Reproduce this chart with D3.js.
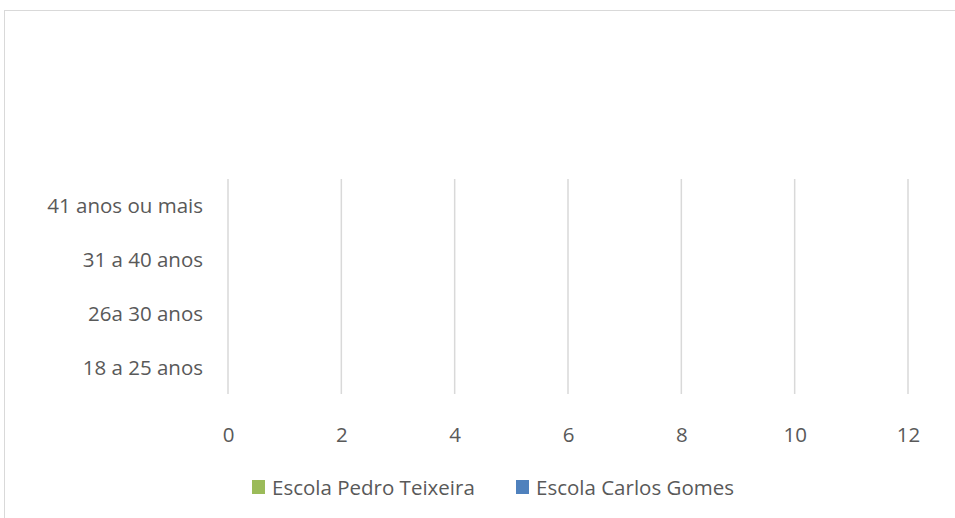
<!DOCTYPE html>
<html>
<head>
<meta charset="utf-8">
<script src="https://cdn.jsdelivr.net/npm/d3@7"></script>
<style>
  html, body { margin: 0; padding: 0; background: #fff; }
  svg { display: block; }
  text { font-family: "Open Sans", "Noto Sans", sans-serif; fill: #595959; }
</style>
</head>
<body>
<svg id="chart" width="955" height="518"></svg>
<script>
// Age groups (bottom to top on the chart)
const categories = ["18 a 25 anos", "26a 30 anos", "31 a 40 anos", "41 anos ou mais"];
const seriesNames = ["Escola Pedro Teixeira", "Escola Carlos Gomes"];
const pedroTeixeira = [0, 0, 0, 0];
const carlosGomes = [0, 0, 0, 0];
const xTicks = [0, 2, 4, 6, 8, 10, 12];
const seriesColors = ["#9bbb59", "#4f81bd"];

const svg = d3.select("#chart");
const W = 955, H = 518;
const FONT = "20.5px";

// Chart frame
svg.append("rect")
  .attr("x", 4.5).attr("y", 10.5)
  .attr("width", W + 20).attr("height", H + 20)
  .attr("fill", "#fff").attr("stroke", "#d9d9d9").attr("stroke-width", 1);

const plot = { left: 228, right: 908, top: 179, bottom: 394 };

const x = d3.scaleLinear().domain([0, 12]).range([plot.left, plot.right]);
const y = d3.scaleBand()
  .domain(categories.slice().reverse())
  .range([plot.top, plot.bottom])
  .paddingInner(0.35).paddingOuter(0.175);
const ySub = d3.scaleBand().domain(seriesNames).range([0, y.bandwidth()]);

// Vertical gridlines
svg.append("g").selectAll("line").data(xTicks).join("line")
  .attr("x1", d => x(d)).attr("x2", d => x(d))
  .attr("y1", plot.top).attr("y2", plot.bottom)
  .attr("stroke", "#d9d9d9").attr("stroke-width", 1.5);

// Bars
const rows = categories.map((c, i) => ({ c, vals: [pedroTeixeira[i], carlosGomes[i]] }));
const gBars = svg.append("g");
rows.forEach(r => {
  r.vals.forEach((v, j) => {
    gBars.append("rect")
      .attr("x", x(0))
      .attr("y", y(r.c) + ySub(seriesNames[j]))
      .attr("width", x(v) - x(0))
      .attr("height", ySub.bandwidth())
      .attr("fill", seriesColors[j]);
  });
});

// Category axis labels
const yAxis = d3.axisLeft(y).tickSize(0).tickPadding(25);
const gy = svg.append("g").attr("transform", `translate(${plot.left},1)`).call(yAxis);
gy.select(".domain").remove();
gy.selectAll("text").style("font-size", FONT).attr("fill", "#595959")
  .style("font-family", "'Open Sans', sans-serif");

// Value axis labels
const xAxis = d3.axisBottom(x).tickValues(xTicks).tickSize(0).tickPadding(33);
const gx = svg.append("g").attr("transform", `translate(0,${plot.bottom})`).call(xAxis);
gx.select(".domain").remove();
gx.selectAll("text").style("font-size", FONT).attr("fill", "#595959")
  .style("font-family", "'Open Sans', sans-serif");

// Legend
const legend = svg.append("g").attr("transform", "translate(252,480)");
const legendX = [0, 264];
seriesNames.forEach((name, i) => {
  const g = legend.append("g").attr("transform", `translate(${legendX[i]},0)`);
  g.append("rect").attr("width", 13).attr("height", 14).attr("fill", seriesColors[i]);
  g.append("text").attr("x", 20).attr("y", 7.5).attr("dy", "0.35em")
    .style("font-size", FONT).text(name);
});
</script>
</body>
</html>
